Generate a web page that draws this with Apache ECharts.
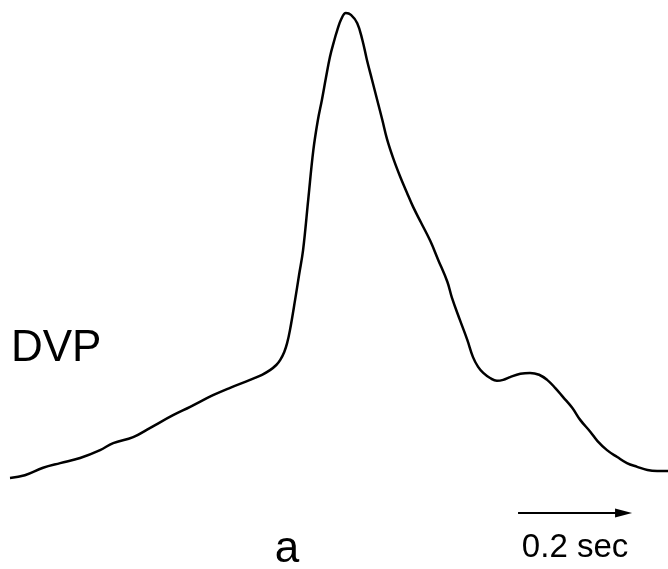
<!DOCTYPE html>
<html>
<head>
<meta charset="utf-8">
<script src="https://cdn.jsdelivr.net/npm/echarts@6/dist/echarts.min.js"></script>
<style>
  html, body { margin: 0; padding: 0; background: #fff; }
  #chart { width: 668px; height: 569px; }
</style>
</head>
<body>
<div id="chart"></div>
<script>
// time in ms, amplitude in arbitrary units (peak = 100)
const timeMs = [0, 26, 58, 88, 123, 158, 181, 216, 246, 286, 316, 356, 386, 421, 442, 456, 467, 474, 481, 486,
  491, 500, 507, 514, 523, 532, 540, 547, 554, 561, 568, 574, 581, 589, 598, 609, 618, 626, 635, 644,
  653, 661, 672, 684, 696, 707, 721, 737, 751, 767, 775, 789, 802, 812, 821, 830, 842, 854, 865, 877,
  895, 912, 928, 942, 956, 970, 986, 1000, 1018, 1030, 1047, 1065, 1082, 1100, 1118, 1135, 1154];
const dvp = [0, 0.6, 2.2, 3.2, 4.3, 6.0, 7.5, 8.8, 10.8, 13.5, 15.3, 17.8, 19.4, 21.1, 22.2, 23.2, 24.3, 25.4, 27.1, 29.0,
  31.8, 38.3, 43.7, 49.0, 59.8, 70.5, 77.0, 81.3, 86.0, 90.5, 93.8, 96.3, 98.7, 100, 99.6, 97.8, 94.2, 89.9, 85.6, 81.3,
  77.0, 73.0, 68.8, 64.9, 61.4, 58.3, 54.9, 51.0, 46.9, 42.2, 38.8, 34.0, 29.7, 26.0, 23.9, 22.6, 21.5, 20.9, 21.1, 21.7,
  22.4, 22.6, 22.2, 21.1, 19.4, 17.4, 15.1, 12.5, 9.9, 8.0, 6.0, 4.5, 3.2, 2.4, 1.7, 1.5, 1.5];

// scale bar: 0.2 sec
const scaleStart = 891;
const scaleLen = 200;
const scaleY = -7.5;

const chart = echarts.init(document.getElementById('chart'));
const font = '"Liberation Sans", Arial, sans-serif';

chart.setOption({
  animation: false,
  grid: { left: 10, right: 0, top: 13, bottom: 91 },
  xAxis: { type: 'value', min: 0, max: 1154, show: false },
  yAxis: { type: 'value', min: 0, max: 100, show: false },
  series: [{
    type: 'line',
    data: timeMs.map((t, i) => [t, dvp[i]]),
    smooth: 0.4,
    showSymbol: false,
    clip: false,
    lineStyle: { color: '#000', width: 2.5 }
  }]
});

const p0 = chart.convertToPixel({ gridIndex: 0 }, [scaleStart, scaleY]);
const p1 = chart.convertToPixel({ gridIndex: 0 }, [scaleStart + scaleLen, scaleY]);

chart.setOption({
  graphic: [
    {
      type: 'line',
      shape: { x1: p0[0], y1: p0[1], x2: p1[0] - 14, y2: p1[1] },
      style: { stroke: '#000', lineWidth: 2 }
    },
    {
      type: 'polygon',
      shape: { points: [[p1[0], p1[1]], [p1[0] - 17, p1[1] - 4.5], [p1[0] - 17, p1[1] + 4.5]] },
      style: { fill: '#000' }
    },
    {
      type: 'text',
      x: (p0[0] + p1[0]) / 2, y: 548,
      style: { text: '0.2 sec', font: '33px ' + font, fill: '#000', align: 'center', verticalAlign: 'middle' }
    },
    {
      type: 'text',
      x: 287, y: 550,
      style: { text: 'a', font: '44px ' + font, fill: '#000', align: 'center', verticalAlign: 'middle' }
    },
    {
      type: 'text',
      x: 11, y: 349,
      style: { text: 'DVP', font: '44px ' + font, fill: '#000', align: 'left', verticalAlign: 'middle' }
    }
  ]
});
</script>
</body>
</html>
